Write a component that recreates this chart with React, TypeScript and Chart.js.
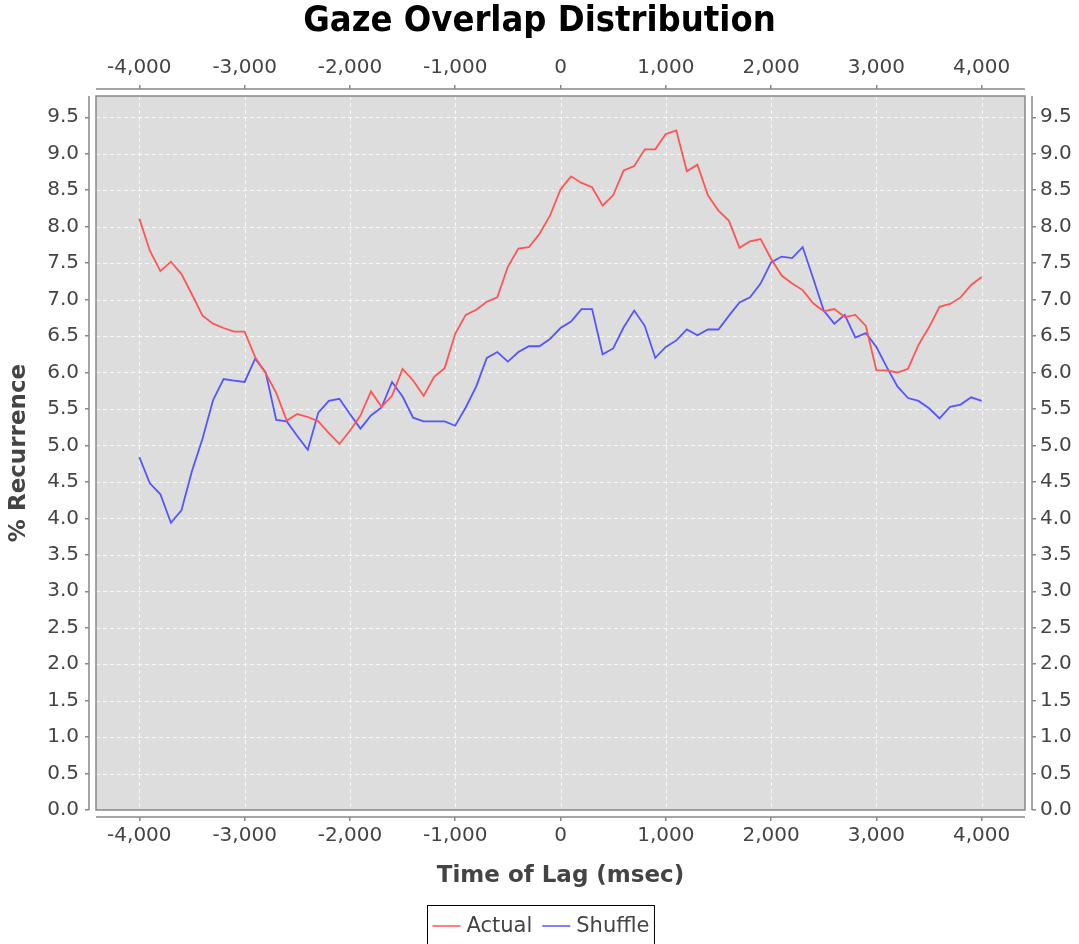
import { useEffect, useRef } from "react";
import { Chart, registerables } from "chart.js";

Chart.register(...registerables);

const lags = [
  -4000, -3900, -3800, -3700, -3600, -3500, -3400, -3300, -3200, -3100,
  -3000, -2900, -2800, -2700, -2600, -2500, -2400, -2300, -2200, -2100,
  -2000, -1900, -1800, -1700, -1600, -1500, -1400, -1300, -1200, -1100,
  -1000, -900, -800, -700, -600, -500, -400, -300, -200, -100,
  0, 100, 200, 300, 400, 500, 600, 700, 800, 900,
  1000, 1100, 1200, 1300, 1400, 1500, 1600, 1700, 1800, 1900,
  2000, 2100, 2200, 2300, 2400, 2500, 2600, 2700, 2800, 2900,
  3000, 3100, 3200, 3300, 3400, 3500, 3600, 3700, 3800, 3900, 4000,
];

const actual = [
  8.11, 7.67, 7.39, 7.52, 7.35, 7.07, 6.78, 6.67, 6.61, 6.56,
  6.56, 6.21, 5.99, 5.72, 5.34, 5.43, 5.39, 5.33, 5.17, 5.02,
  5.2, 5.41, 5.74, 5.53, 5.68, 6.05, 5.89, 5.68, 5.94, 6.06,
  6.53, 6.79, 6.86, 6.97, 7.03, 7.45, 7.7, 7.72, 7.9, 8.15,
  8.51, 8.69, 8.6, 8.54, 8.29, 8.43, 8.77, 8.83, 9.06, 9.06,
  9.27, 9.32, 8.76, 8.85, 8.43, 8.22, 8.08, 7.71, 7.8, 7.83,
  7.56, 7.33, 7.22, 7.13, 6.95, 6.84, 6.87, 6.76, 6.79, 6.64,
  6.03, 6.03, 6.0, 6.05, 6.38, 6.62, 6.9, 6.94, 7.03, 7.2, 7.31,
];

const shuffle = [
  4.84, 4.48, 4.33, 3.94, 4.11, 4.65, 5.09, 5.62, 5.91, 5.89,
  5.87, 6.19, 6.0, 5.35, 5.33, 5.13, 4.94, 5.45, 5.61, 5.64,
  5.43, 5.23, 5.41, 5.52, 5.87, 5.67, 5.38, 5.33, 5.33, 5.33,
  5.27, 5.52, 5.81, 6.2, 6.28, 6.15, 6.28, 6.36, 6.36, 6.46,
  6.61, 6.7, 6.87, 6.87, 6.25, 6.33, 6.62, 6.85, 6.64, 6.2,
  6.35, 6.44, 6.59, 6.51, 6.59, 6.59, 6.78, 6.96, 7.03, 7.22,
  7.51, 7.59, 7.57, 7.72, 7.29, 6.85, 6.67, 6.79, 6.48, 6.54,
  6.35, 6.07, 5.81, 5.65, 5.61, 5.51, 5.37, 5.53, 5.56, 5.66, 5.61,
];

const xTickValues = [-4000, -3000, -2000, -1000, 0, 1000, 2000, 3000, 4000];
const xTickLabels = ["-4,000", "-3,000", "-2,000", "-1,000", "0", "1,000", "2,000", "3,000", "4,000"];
const yTickValues = [0, 0.5, 1, 1.5, 2, 2.5, 3, 3.5, 4, 4.5, 5, 5.5, 6, 6.5, 7, 7.5, 8, 8.5, 9, 9.5];
const yTickLabels = [
  "0.0", "0.5", "1.0", "1.5", "2.0", "2.5", "3.0", "3.5", "4.0", "4.5",
  "5.0", "5.5", "6.0", "6.5", "7.0", "7.5", "8.0", "8.5", "9.0", "9.5",
];
const seriesNames = ["Actual", "Shuffle"];
const seriesColors = ["rgb(255,85,85)", "rgb(85,85,255)"];

const chartTitle = "Gaze Overlap Distribution";
const xTitle = "Time of Lag (msec)";
const yTitle = "% Recurrence";

const FONT = '"DejaVu Sans", sans-serif';
const INSET = 7;
const AXIS_COLOR = "#888888";
const TEXT_COLOR = "#444444";

const framePlugin = {
  id: "frame",
  beforeDatasetsDraw(chart: any) {
    const { ctx, chartArea: a, scales } = chart;
    const L = a.left + INSET, R = a.right - INSET, T = a.top + INSET, B = a.bottom - INSET;
    ctx.save();
    ctx.fillStyle = "#dddddd";
    ctx.fillRect(L, T, R - L, B - T);
    ctx.strokeStyle = "rgba(255,255,255,0.8)";
    ctx.lineWidth = 1;
    ctx.setLineDash([4, 3]);
    xTickValues.forEach((v) => {
      const px = Math.round(scales.x.getPixelForValue(v)) + 0.5;
      ctx.beginPath();
      ctx.moveTo(px, T);
      ctx.lineTo(px, B);
      ctx.stroke();
    });
    yTickValues.forEach((v) => {
      const py = Math.round(scales.y.getPixelForValue(v)) + 0.5;
      ctx.beginPath();
      ctx.moveTo(L, py);
      ctx.lineTo(R, py);
      ctx.stroke();
    });
    ctx.restore();
  },
  afterDatasetsDraw(chart: any) {
    const { ctx, chartArea: a, width } = chart;
    const L = a.left + INSET, R = a.right - INSET, T = a.top + INSET, B = a.bottom - INSET;
    ctx.save();
    ctx.strokeStyle = AXIS_COLOR;
    ctx.lineWidth = 1.5;
    ctx.strokeRect(L, T, R - L, B - T);
    ctx.beginPath();
    ctx.moveTo(a.left, T); ctx.lineTo(a.left, B);
    ctx.moveTo(a.right, T); ctx.lineTo(a.right, B);
    ctx.moveTo(L, a.top); ctx.lineTo(R, a.top);
    ctx.moveTo(L, a.bottom); ctx.lineTo(R, a.bottom);
    ctx.stroke();

    // title
    ctx.fillStyle = "#000000";
    ctx.font = 'bold 36px "DejaVu Sans Condensed", "DejaVu Sans", sans-serif';
    ctx.textAlign = "center";
    ctx.textBaseline = "middle";
    ctx.fillText(chartTitle, width / 2, 22);

    // legend
    ctx.font = "21px " + FONT;
    const lineLen = 28, gapLine = 6, gapItem = 10, pad = 5;
    const widths = seriesNames.map((n) => ctx.measureText(n).width);
    let total = pad * 2;
    widths.forEach((w, i) => { total += lineLen + gapLine + w + (i > 0 ? gapItem : 0); });
    const cx = width / 2 + 1;
    const boxL = Math.round(cx - total / 2) + 0.5;
    const boxT = 905.5;
    const midY = 926;
    ctx.lineWidth = 1;
    ctx.strokeStyle = "#000000";
    ctx.strokeRect(boxL, boxT, total, 60);
    let x = boxL + pad;
    ctx.textAlign = "left";
    seriesNames.forEach((n, i) => {
      if (i > 0) x += gapItem;
      ctx.strokeStyle = seriesColors[i];
      ctx.lineWidth = 1.5;
      ctx.beginPath();
      ctx.moveTo(x, midY);
      ctx.lineTo(x + lineLen, midY);
      ctx.stroke();
      x += lineLen + gapLine;
      ctx.fillStyle = TEXT_COLOR;
      ctx.fillText(n, x, midY + 1);
      x += widths[i];
    });
    ctx.restore();
  },
};

function xTicksSetter(s: any) {
  s.ticks = xTickValues.map((v) => ({ value: v }));
}
function yTicksSetter(s: any) {
  s.ticks = yTickValues.map((v) => ({ value: v }));
}
const xLabel = (v: any) => xTickLabels[xTickValues.indexOf(Number(v))] ?? "";
const yLabel = (v: any) => yTickLabels[yTickValues.indexOf(Number(v))] ?? "";

const tickFont = { family: FONT, size: 20 };
const gridTicks = { drawOnChartArea: false, drawTicks: true, tickLength: 4, color: AXIS_COLOR, lineWidth: 1.5 };

export default function App() {
  const ref = useRef<HTMLCanvasElement>(null);
  useEffect(() => {
    document.body.style.margin = "0";
    const canvas = ref.current!;
    const chart = new Chart(canvas, {
      type: "line",
      data: {
        datasets: [
          {
            label: seriesNames[0],
            data: lags.map((l, i) => ({ x: l, y: actual[i] })),
            borderColor: seriesColors[0],
            backgroundColor: seriesColors[0],
            borderWidth: 1.8,
            pointRadius: 0,
            tension: 0,
            fill: false,
            xAxisID: "x",
            yAxisID: "y",
          },
          {
            label: seriesNames[1],
            data: lags.map((l, i) => ({ x: l, y: shuffle[i] })),
            borderColor: seriesColors[1],
            backgroundColor: seriesColors[1],
            borderWidth: 1.8,
            pointRadius: 0,
            tension: 0,
            fill: false,
            xAxisID: "x",
            yAxisID: "y",
          },
        ],
      },
      options: {
        responsive: false,
        animation: false,
        events: [],
        layout: { padding: { top: 50, bottom: 47, left: 0, right: 0 } },
        plugins: { legend: { display: false }, title: { display: false }, tooltip: { enabled: false } },
        scales: {
          x: {
            type: "linear",
            position: "bottom",
            min: -4478,
            max: 4478,
            afterBuildTicks: xTicksSetter,
            afterFit: (s: any) => { s.height = 80; },
            ticks: { callback: xLabel, autoSkip: false, maxRotation: 0, color: TEXT_COLOR, font: tickFont, padding: 3 },
            grid: gridTicks,
            border: { display: false },
            title: {
              display: true,
              text: xTitle,
              color: TEXT_COLOR,
              font: { family: FONT, size: 23, weight: "bold" },
              padding: { top: 0, bottom: 7 },
            },
          },
          x2: {
            type: "linear",
            position: "top",
            min: -4478,
            max: 4478,
            afterBuildTicks: xTicksSetter,
            afterFit: (s: any) => { s.height = 39; },
            ticks: { callback: xLabel, autoSkip: false, maxRotation: 0, color: TEXT_COLOR, font: tickFont, padding: 5 },
            grid: gridTicks,
            border: { display: false },
          },
          y: {
            type: "linear",
            position: "left",
            min: -0.096,
            max: 9.888,
            afterBuildTicks: yTicksSetter,
            afterFit: (s: any) => { s.width = 89; },
            ticks: { callback: yLabel, autoSkip: false, color: TEXT_COLOR, font: tickFont, padding: 6 },
            grid: gridTicks,
            border: { display: false },
            title: {
              display: true,
              text: yTitle,
              color: TEXT_COLOR,
              font: { family: FONT, size: 23, weight: "bold" },
              padding: { top: 5, bottom: 0 },
            },
          },
          y2: {
            type: "linear",
            position: "right",
            min: -0.096,
            max: 9.888,
            afterBuildTicks: yTicksSetter,
            afterFit: (s: any) => { s.width = 47; },
            ticks: { callback: yLabel, autoSkip: false, color: TEXT_COLOR, font: tickFont, padding: 4 },
            grid: gridTicks,
            border: { display: false },
          },
        },
      } as any,
      plugins: [framePlugin],
    });
    return () => chart.destroy();
  }, []);
  return (
    <div style={{ width: 1079, height: 944 }}>
      <canvas ref={ref} width={1079} height={944} style={{ display: "block" }} />
    </div>
  );
}
